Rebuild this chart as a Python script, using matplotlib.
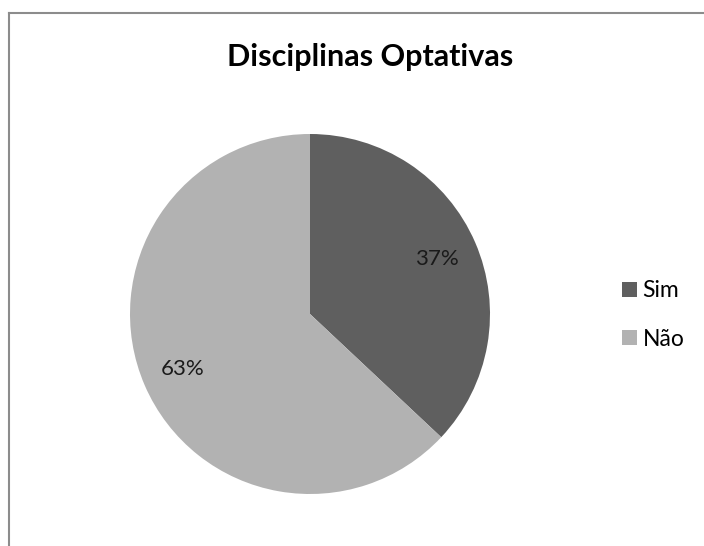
import matplotlib
matplotlib.use("Agg")
import matplotlib.pyplot as plt
from matplotlib.lines import Line2D
from matplotlib.patches import Patch

title = "Disciplinas Optativas"
categories = ["Sim", "Não"]
values = [37, 63]
colors = ["#5f5f5f", "#b2b2b2"]

plt.rcParams['font.family'] = ['Lato', 'DejaVu Sans']

W, H = 704, 546
fig = plt.figure(figsize=(W / 100, H / 100), dpi=100)
fig.patch.set_facecolor("white")

cx, cy, r = 310, 314, 180
ax = fig.add_axes([(cx - r) / W, (H - cy - r) / H, 2 * r / W, 2 * r / H])
wedges, texts, autotexts = ax.pie(values, colors=colors, startangle=90, counterclock=False,
                                  autopct='%1.0f%%', pctdistance=0.77,
                                  textprops=dict(fontsize=16, color="#1a1a1a"))
ax.set_xlim(-1, 1)
ax.set_ylim(-1, 1)
ax.set_aspect('equal')

# border (top and left)
fig.add_artist(Line2D([8.5 / W, 1.0], [1 - 12.5 / H, 1 - 12.5 / H], color="#8c8c8c", lw=1.5, transform=fig.transFigure))
fig.add_artist(Line2D([8.5 / W, 8.5 / W], [0, 1 - 12.5 / H], color="#8c8c8c", lw=1.5, transform=fig.transFigure))

fig.text(370 / W, 1 - 57 / H, title, ha='center', va='center', fontsize=22, fontweight='bold')

handles = [Patch(facecolor=c, edgecolor='none') for c in colors]
fig.legend(handles, categories, loc='center left', bbox_to_anchor=(622 / W, 1 - 315 / H),
           frameon=False, fontsize=16.5, handlelength=0.64, handleheight=0.64,
           handletextpad=0.25, labelspacing=1.2, borderpad=0, borderaxespad=0)

fig.savefig("out.png", dpi=100)
